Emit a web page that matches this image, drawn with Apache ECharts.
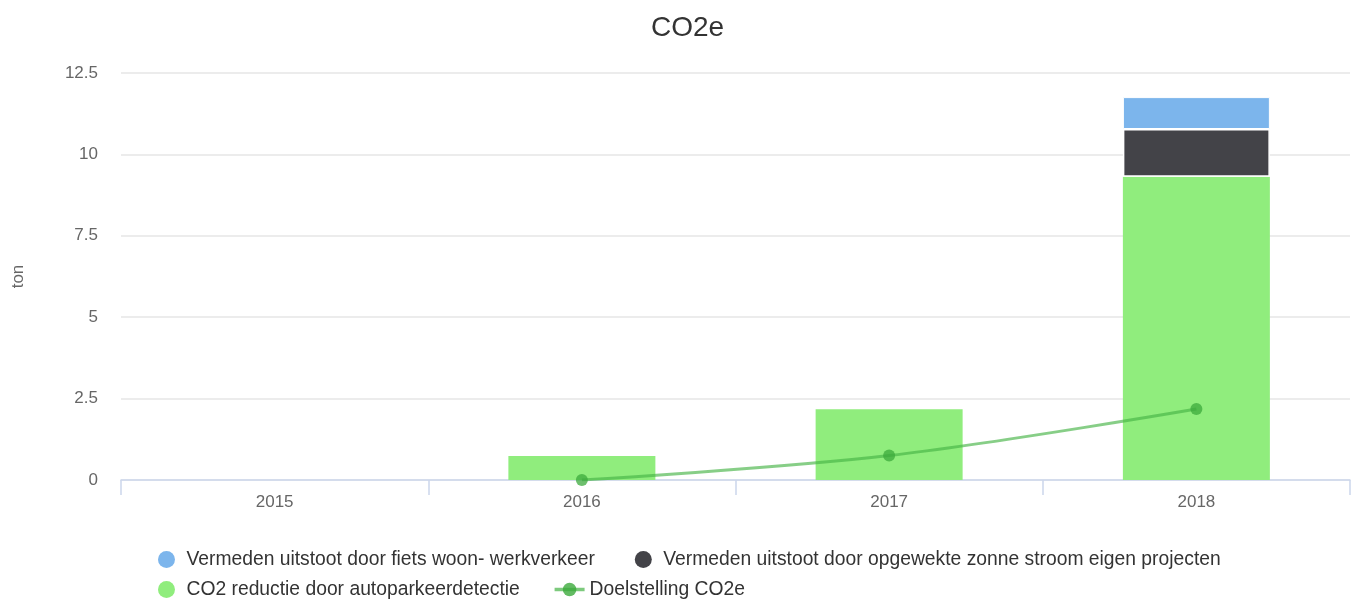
<!DOCTYPE html>
<html>
<head>
<meta charset="utf-8">
<script src="https://cdn.jsdelivr.net/npm/echarts@6/dist/echarts.min.js"></script>
<style>html,body{margin:0;padding:0;background:#fff}#c{width:1359px;height:600px}</style>
</head>
<body>
<div id="c"></div>
<script>
const categories = ['2015', '2016', '2017', '2018'];
const fietsValues = [null, null, null, 0.98];
const zonneValues = [null, null, null, 1.47];
const parkeerValues = [null, 0.74, 2.17, 9.31];
const doelValues = [null, 0, 0.75, 2.18];
const yTicks = { min: 0, max: 12.5, interval: 2.5 };

const names = {
  fiets: 'Vermeden uitstoot door fiets woon- werkverkeer',
  zonne: 'Vermeden uitstoot door opgewekte zonne stroom eigen projecten',
  parkeer: 'CO2 reductie door autoparkeerdetectie',
  doel: 'Doelstelling CO2e'
};
const FONT = '"Liberation Sans", Arial, sans-serif';
const legendCommon = {
  orient: 'horizontal', left: 153, itemWidth: 30, itemHeight: 17, itemGap: 33,
  textStyle: { color: '#333', fontSize: 19.3, fontFamily: FONT }, selectedMode: true
};
const chart = echarts.init(document.getElementById('c'), null, { renderer: 'canvas' });
chart.setOption({
  animation: false,
  title: {
    text: 'CO2e', left: 646, top: 9,
    textStyle: { color: '#333', fontSize: 28, fontWeight: 'normal', fontFamily: FONT }
  },
  legend: [
    Object.assign({}, legendCommon, { top: 545, itemGap: 40, data: [
      { name: names.fiets, icon: 'circle', itemStyle: { borderWidth: 0 } },
      { name: names.zonne, icon: 'circle', itemStyle: { borderWidth: 0 } }
    ] }),
    Object.assign({}, legendCommon, { top: 575, data: [
      { name: names.parkeer, icon: 'circle' },
      { name: names.doel, lineStyle: { width: 3.5, color: 'rgba(70,180,70,0.7)' }, itemStyle: { color: 'rgba(60,170,60,0.8)' } }
    ] })
  ],
  grid: { left: 121, right: 9, top: 73, bottom: 120, containLabel: false },
  xAxis: {
    type: 'category', data: categories,
    axisLine: { lineStyle: { color: '#ccd6eb', width: 1.5 } },
    axisTick: { show: true, length: 15, lineStyle: { color: '#ccd6eb', width: 1.5 } },
    axisLabel: { color: '#666', fontSize: 17, fontFamily: FONT, margin: 14 },
    splitLine: { show: false }
  },
  yAxis: {
    type: 'value', min: yTicks.min, max: yTicks.max, interval: yTicks.interval,
    name: 'ton', nameLocation: 'middle', nameGap: 94, nameRotate: 90,
    nameTextStyle: { color: '#666', fontSize: 17, fontFamily: FONT },
    axisLine: { show: false }, axisTick: { show: false },
    axisLabel: { color: '#666', fontSize: 17, fontFamily: FONT, margin: 23 },
    splitLine: { lineStyle: { color: '#e6e6e6', width: 1.5 } }
  },
  series: [
    {
      name: names.parkeer, type: 'bar', stack: 'co2', data: parkeerValues, barWidth: 147,
      itemStyle: { color: '#90ed7d' }
    },
    {
      name: names.zonne, type: 'bar', stack: 'co2', data: zonneValues, barWidth: 147,
      itemStyle: { color: '#434348', borderColor: '#fff', borderWidth: 1.5 }
    },
    {
      name: names.fiets, type: 'bar', stack: 'co2', data: fietsValues, barWidth: 147,
      itemStyle: { color: '#7cb5ec', borderColor: '#fff', borderWidth: 1 }
    },
    {
      name: names.doel, type: 'line', data: doelValues, smooth: 0.35,
      symbol: 'circle', symbolSize: 12, connectNulls: false,
      lineStyle: { color: 'rgba(70,180,70,0.65)', width: 3 },
      itemStyle: { color: 'rgba(60,170,60,0.75)' },
      z: 5
    }
  ]
});
</script>
</body>
</html>
